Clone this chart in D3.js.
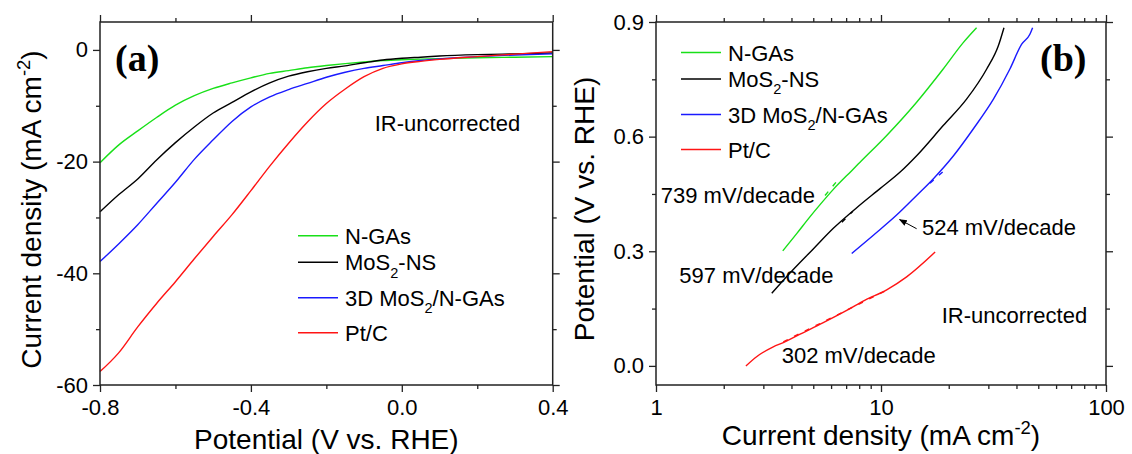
<!DOCTYPE html>
<html>
<head>
<meta charset="utf-8">
<script src="https://cdn.jsdelivr.net/npm/d3@7"></script>
<style>
  body { margin: 0; background: #fff; }
  svg text { font-family: "Liberation Sans", Arial, sans-serif; fill: #000; }
  svg text.panel-tag { font-family: "Liberation Serif", "Times New Roman", serif; font-weight: bold; }
</style>
</head>
<body>
<svg id="chart" width="1132" height="454"></svg>
<script>
// ---------- Panel (a): polarization curves (IR-uncorrected) ----------
const potentialA = [-0.8, -0.75, -0.7, -0.65, -0.6, -0.55, -0.5, -0.45, -0.4, -0.35, -0.3,
                    -0.25, -0.2, -0.15, -0.1, -0.05, 0.0, 0.05, 0.1, 0.2, 0.3, 0.4];
const nGAsA     = [-20.2, -17.0, -14.5, -12.1, -9.9, -8.2, -6.9, -5.9, -5.0, -4.2, -3.7,
                   -3.2, -2.8, -2.45, -2.15, -1.9, -1.75, -1.65, -1.55, -1.4, -1.3, -1.2];
const mos2NSA   = [-29.0, -25.9, -23.1, -19.7, -16.6, -13.8, -11.3, -9.4, -7.5, -5.9, -4.7,
                   -3.9, -3.3, -2.85, -2.3, -1.8, -1.5, -1.3, -1.1, -0.85, -0.7, -0.55];
const mos2NGAsA = [-37.9, -34.7, -31.3, -27.5, -23.7, -19.6, -16.1, -12.8, -10.2, -8.4, -7.1,
                   -6.0, -4.9, -4.0, -3.3, -2.8, -2.3, -1.9, -1.6, -1.2, -0.9, -0.7];
const ptCA      = [-57.6, -54.2, -49.6, -45.4, -41.5, -37.4, -33.4, -29.5, -25.2, -20.8, -16.7,
                   -12.9, -9.6, -7.0, -4.8, -3.3, -2.5, -2.05, -1.7, -1.2, -0.75, -0.3];
const xTicksA = [-0.8, -0.4, 0.0, 0.4];
const xMinorA = [-0.6, -0.2, 0.2];
const yTicksA = [0, -20, -40, -60];
const yMinorA = [-10, -30, -50];

// ---------- Panel (b): Tafel plots, [current density (mA cm-2), potential (V)] ----------
const tafelNGAs = [[3.66, 0.301], [4.22, 0.346], [4.83, 0.39], [5.36, 0.422], [6.14, 0.462],
                   [7.41, 0.511], [8.07, 0.533], [10.6, 0.603], [14.4, 0.69], [18.9, 0.777],
                   [23.2, 0.846], [26.6, 0.885]];
const tafelMoS2NS = [[3.27, 0.19], [3.94, 0.243], [5.0, 0.306], [6.14, 0.36], [7.8, 0.414],
                     [9.9, 0.464], [12.2, 0.508], [14.4, 0.55], [18.9, 0.629], [24.0, 0.698],
                     [29.5, 0.777], [33.2, 0.837], [35.2, 0.885]];
const tafelMoS2NGAs = [[7.41, 0.294], [9.25, 0.342], [11.7, 0.394], [14.4, 0.446], [17.1, 0.49],
                       [21.0, 0.55], [25.7, 0.62], [31.6, 0.698], [37.4, 0.777], [42.2, 0.842],
                       [45.9, 0.868], [47.2, 0.885]];
const tafelPtC = [[2.51, 0.0], [2.8, 0.024], [3.32, 0.05], [3.68, 0.061], [4.37, 0.083],
                  [5.54, 0.113], [7.04, 0.145], [8.5, 0.172], [10.6, 0.199], [13.0, 0.233],
                  [17.4, 0.298]];
// linear Tafel fits (dashed)
const fitNGAs = [[5.64, 0.446], [6.57, 0.493]];
const fitMoS2NS = [[6.7, 0.376], [7.5, 0.405]];
const fitMoS2NGAs = [[16.5, 0.478], [18.9, 0.509]];
const fitPtC = [[3.68, 0.063], [10.6, 0.198]];
const slopeLabels = ["739 mV/decade", "597 mV/decade", "524 mV/decade", "302 mV/decade"];
const slopeAnchors = [[1.05, 0.427], [1.27, 0.216], [15.2, 0.342], [3.62, 0.007]];
const arrowB = [[14.4, 0.359], [12.1, 0.383]];
const xTicksB = [1, 10, 100];
const xMinorB = [2, 3, 4, 5, 6, 7, 8, 9, 20, 30, 40, 50, 60, 70, 80, 90];
const yTicksB = [0.0, 0.3, 0.6, 0.9];
const yMinorB = [0.15, 0.45, 0.75];

const seriesNames = ["N-GAs", "MoS_{2}-NS", "3D MoS_{2}/N-GAs", "Pt/C"];
const seriesColors = ["#18e018", "#000000", "#1a1aff", "#ff1414"];

// ---------- helpers ----------
const svg = d3.select("#chart");
const FONT = "'Liberation Sans', Arial, sans-serif";

// text with _{sub} and ^{sup} segments
function richText(sel, str, size) {
  const parts = str.split(/(_\{[^}]*\}|\^\{[^}]*\})/).filter(s => s.length);
  let shift = 0;
  parts.forEach(p => {
    let txt = p, target = 0, fs = size;
    if (p.startsWith("_{")) { txt = p.slice(2, -1); target = size * 0.33; fs = size * 0.66; }
    else if (p.startsWith("^{")) { txt = p.slice(2, -1); target = -size * 0.4; fs = size * 0.66; }
    sel.append("tspan").attr("dy", target - shift).attr("font-size", fs).text(txt);
    shift = target;
  });
  return sel;
}

function styleAxis(g, size) {
  g.select(".domain").remove();
  g.selectAll("line").attr("stroke", "#222").attr("stroke-width", 1.3);
  g.selectAll("text").attr("font-size", size).attr("font-family", FONT).attr("fill", "#000");
}

function drawFrame(x, y, xMaj, xMin, yMaj, yMin, xFmt, yFmt, box) {
  const g = svg.append("g");
  const add = (axis, tx, ty) => g.append("g").attr("transform", `translate(${tx},${ty})`).call(axis).call(s => styleAxis(s, 22));
  add(d3.axisBottom(x).tickValues(xMaj).tickSize(7).tickPadding(7).tickFormat(xFmt), 0, box.bottom);
  add(d3.axisBottom(x).tickValues(xMin).tickSize(4).tickFormat(""), 0, box.bottom);
  add(d3.axisTop(x).tickValues(xMaj).tickSize(7).tickFormat(""), 0, box.top);
  add(d3.axisTop(x).tickValues(xMin).tickSize(4).tickFormat(""), 0, box.top);
  add(d3.axisLeft(y).tickValues(yMaj).tickSize(7).tickPadding(5).tickFormat(yFmt), box.left, 0);
  add(d3.axisLeft(y).tickValues(yMin).tickSize(4).tickFormat(""), box.left, 0);
  add(d3.axisRight(y).tickValues(yMaj).tickSize(7).tickFormat(""), box.right, 0);
  add(d3.axisRight(y).tickValues(yMin).tickSize(4).tickFormat(""), box.right, 0);
  g.append("rect")
    .attr("x", box.left).attr("y", box.top)
    .attr("width", box.right - box.left).attr("height", box.bottom - box.top)
    .attr("fill", "none").attr("stroke", "#222").attr("stroke-width", 1.5);
}

function drawLegend(x0, y0) {
  const offsets = [0, 26.6, 62, 97];
  seriesNames.forEach((name, i) => {
    const y = y0 + offsets[i];
    svg.append("line").attr("x1", x0).attr("x2", x0 + 40).attr("y1", y).attr("y2", y)
      .attr("stroke", seriesColors[i]).attr("stroke-width", 1.5);
    const t = svg.append("text").attr("x", x0 + 47).attr("y", y + 8).attr("font-size", 22);
    richText(t, name, 22);
  });
}

// ---------- panel (a) ----------
const boxA = { left: 100, right: 552.7, top: 22, bottom: 385 };
const xA = d3.scaleLinear().domain([-0.8, 0.4]).range([boxA.left, boxA.right]);
const yA = d3.scaleLinear().domain([-60, 5]).range([boxA.bottom, boxA.top]);

const lineA = d3.line().x(d => xA(d[0])).y(d => yA(d[1])).curve(d3.curveMonotoneX);
[nGAsA, mos2NSA, mos2NGAsA, ptCA].forEach((vals, i) => {
  svg.append("path")
    .datum(potentialA.map((v, k) => [v, vals[k]]))
    .attr("d", lineA).attr("fill", "none")
    .attr("stroke", seriesColors[i]).attr("stroke-width", 1.4);
});
drawFrame(xA, yA, xTicksA, xMinorA, yTicksA, yMinorA, d => d.toFixed(1), d => String(d), boxA);

svg.append("text").attr("x", xA(-0.072)).attr("y", yA(-14.6)).attr("font-size", 22).text("IR-uncorrected");
svg.append("text").attr("class", "panel-tag").attr("x", 115).attr("y", 71)
  .attr("font-size", 38).text("(a)");
drawLegend(298, 235.7);

svg.append("text").attr("x", (boxA.left + boxA.right) / 2).attr("y", 449)
  .attr("text-anchor", "middle").attr("font-size", 28).text("Potential (V vs. RHE)");
richText(svg.append("text").attr("text-anchor", "middle").attr("font-size", 28)
  .attr("transform", "translate(41,209.5) rotate(-90)"), "Current density (mA cm^{-2})", 28);

// ---------- panel (b) ----------
const boxB = { left: 656, right: 1106, top: 22, bottom: 385 };
const xB = d3.scaleLog().domain([1, 100]).range([boxB.left, boxB.right]);
const yB = d3.scaleLinear().domain([-0.05, 0.9]).range([boxB.bottom, boxB.top]);

const lineB = d3.line().x(d => xB(d[0])).y(d => yB(d[1])).curve(d3.curveMonotoneX);
[tafelNGAs, tafelMoS2NS, tafelMoS2NGAs, tafelPtC].forEach((pts, i) => {
  svg.append("path").datum(pts).attr("d", lineB).attr("fill", "none")
    .attr("stroke", seriesColors[i]).attr("stroke-width", 1.4);
});
[fitNGAs, fitMoS2NS, fitMoS2NGAs, fitPtC].forEach((pts, i) => {
  svg.append("path").datum(pts).attr("d", d3.line().x(d => xB(d[0])).y(d => yB(d[1])))
    .attr("fill", "none").attr("stroke", seriesColors[i]).attr("stroke-width", 1.4)
    .attr("stroke-dasharray", "5,7");
});
drawFrame(xB, yB, xTicksB, xMinorB, yTicksB, yMinorB, d => String(d), d => d.toFixed(1), boxB);

slopeLabels.forEach((txt, i) => {
  svg.append("text").attr("x", xB(slopeAnchors[i][0])).attr("y", yB(slopeAnchors[i][1]))
    .attr("font-size", 22).text(txt);
});
svg.append("text").attr("x", xB(18.6)).attr("y", yB(0.111)).attr("font-size", 22).text("IR-uncorrected");

// arrow pointing at the 3D MoS2/N-GAs curve
svg.append("defs").append("marker")
  .attr("id", "arrowHead").attr("viewBox", "0 0 10 10").attr("refX", 9).attr("refY", 5)
  .attr("markerWidth", 8).attr("markerHeight", 8).attr("orient", "auto")
  .append("path").attr("d", "M0,1 L10,5 L0,9 Z").attr("fill", "#000");
svg.append("line")
  .attr("x1", xB(arrowB[0][0])).attr("y1", yB(arrowB[0][1]))
  .attr("x2", xB(arrowB[1][0])).attr("y2", yB(arrowB[1][1]))
  .attr("stroke", "#000").attr("stroke-width", 1).attr("marker-end", "url(#arrowHead)");

svg.append("text").attr("class", "panel-tag").attr("x", 1040).attr("y", 71)
  .attr("font-size", 38).text("(b)");
drawLegend(681, 52.5);

richText(svg.append("text").attr("x", (boxB.left + boxB.right) / 2).attr("y", 445)
  .attr("text-anchor", "middle").attr("font-size", 28), "Current density (mA cm^{-2})", 28);
svg.append("text").attr("text-anchor", "middle").attr("font-size", 28)
  .attr("transform", "translate(594,209) rotate(-90)").text("Potential (V vs. RHE)");
</script>
</body>
</html>
